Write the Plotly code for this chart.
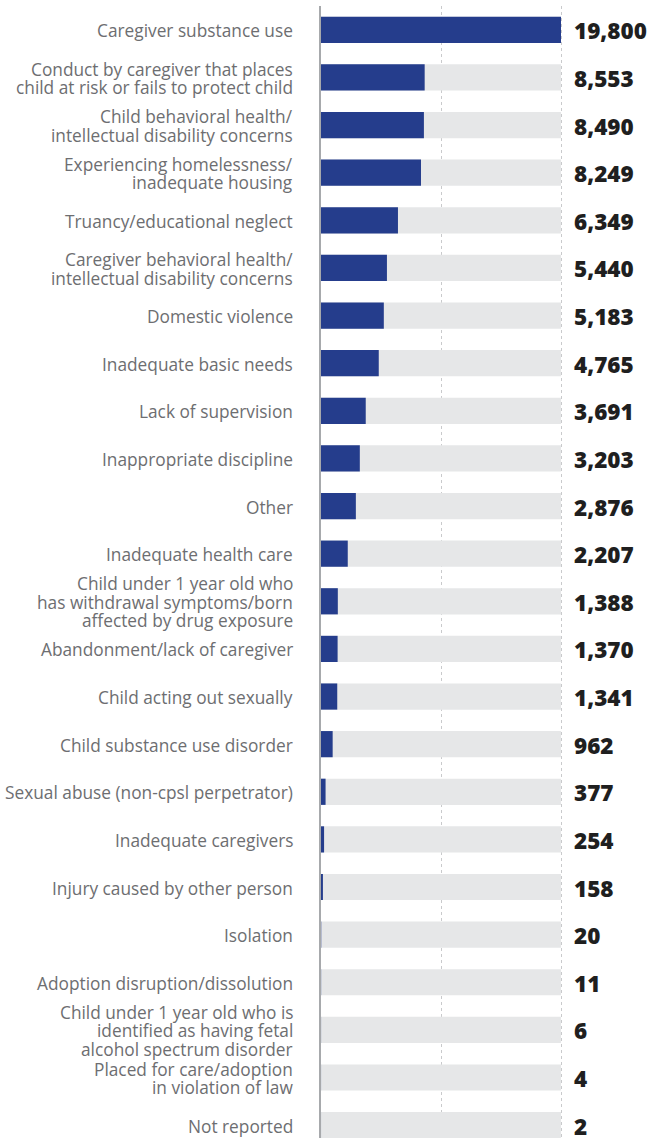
import plotly.graph_objects as go

categories = [
    "Caregiver substance use",
    "Conduct by caregiver that places<br>child at risk or fails to protect child",
    "Child behavioral health/<br>intellectual disability concerns",
    "Experiencing homelessness/<br>inadequate housing",
    "Truancy/educational neglect",
    "Caregiver behavioral health/<br>intellectual disability concerns",
    "Domestic violence",
    "Inadequate basic needs",
    "Lack of supervision",
    "Inappropriate discipline",
    "Other",
    "Inadequate health care",
    "Child under 1 year old who<br>has withdrawal symptoms/born<br>affected by drug exposure",
    "Abandonment/lack of caregiver",
    "Child acting out sexually",
    "Child substance use disorder",
    "Sexual abuse (non-cpsl perpetrator)",
    "Inadequate caregivers",
    "Injury caused by other person",
    "Isolation",
    "Adoption disruption/dissolution",
    "Child under 1 year old who is<br>identified as having fetal<br>alcohol spectrum disorder",
    "Placed for care/adoption<br>in violation of law",
    "Not reported",
]
values = [19800, 8553, 8490, 8249, 6349, 5440, 5183, 4765, 3691, 3203, 2876, 2207,
          1388, 1370, 1341, 962, 377, 254, 158, 20, 11, 6, 4, 2]
max_value = 19800

positions = list(range(len(categories)))
labels = [f"{v:,}" for v in values]

fig = go.Figure()
fig.add_trace(go.Bar(
    y=positions, x=[max_value] * len(values), orientation="h",
    marker=dict(color="#e6e7e8", line=dict(width=0)), width=0.55,
    hoverinfo="skip", showlegend=False,
))
fig.add_trace(go.Bar(
    y=positions, x=values, orientation="h",
    marker=dict(color="#253d8c", line=dict(width=0)), width=0.55,
    hoverinfo="skip", showlegend=False,
))

# value labels
for p, lab in zip(positions, labels):
    fig.add_annotation(
        x=max_value, y=p, text=lab, showarrow=False, xanchor="left",
        xshift=11, yshift=-1,
        font=dict(family="Open Sans", size=22.5, color="#1f1f1f", weight=800),
    )

# category labels, one annotation per line for tight line spacing
line_gap = 18.3
for p, cat in zip(positions, categories):
    lines = cat.split("<br>")
    n = len(lines)
    for i, ln in enumerate(lines):
        off = (i - (n - 1) / 2) * line_gap
        fig.add_annotation(
            xref="paper", x=0, y=p, text=ln, showarrow=False,
            xanchor="right", xshift=-26, yshift=-off - 1,
            font=dict(family="Open Sans", size=17.3, color="#6d6e71"),
        )

x_max = max_value / (561 - 321) * (652 - 321)
fig.update_layout(
    width=652, height=1138,
    margin=dict(l=321, r=0, t=6, b=0, autoexpand=False),
    barmode="overlay",
    plot_bgcolor="white", paper_bgcolor="white",
    xaxis=dict(range=[0, x_max], tickvals=[max_value / 2, max_value],
               showticklabels=False, showgrid=True, gridcolor="#c9cacc",
               griddash="dot", gridwidth=1, zeroline=False, showline=False,
               automargin=False, fixedrange=True),
    yaxis=dict(range=[23.27, -0.5], tickvals=positions,
               showticklabels=False, showgrid=False, zeroline=False,
               showline=True, linecolor="#a7a9ac", linewidth=2,
               ticks="", automargin=False, fixedrange=True),
)
fig.write_html(
    "out.html",
    config={"displayModeBar": False, "staticPlot": True},
    post_script="document.body.style.margin='0';document.body.style.overflow='hidden';",
)
